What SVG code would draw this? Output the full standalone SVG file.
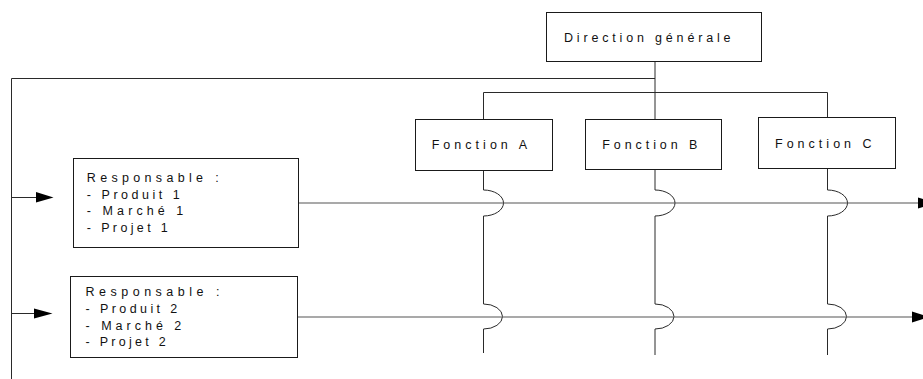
<svg xmlns="http://www.w3.org/2000/svg" width="923" height="379" viewBox="0 0 923 379">
<style>
  .box { fill: #ffffff; stroke: #1a1a1a; stroke-width: 1; }
  .ln { fill: none; stroke: #2a2a2a; stroke-width: 1; }
  .hl { fill: none; stroke: #555555; stroke-width: 1.2; }
  .ah { fill: #000000; stroke: none; }
  text { font-family: "Liberation Sans", Arial, sans-serif; font-size: 12.5px; fill: #111111; }
</style>
<rect width="923" height="379" fill="#ffffff"/>

<g id="connectors">
  <!-- top hierarchy -->
  <path class="ln" d="M655,62 V92.5"/>
  <path class="ln" d="M11.5,379 V78.5 H655"/>
  <path class="ln" d="M483.5,119 V92.5 H827.5 V117"/>
  <path class="ln" d="M655,92.5 V119"/>
  <!-- left arrows -->
  <path class="ln" d="M11.5,197.5 H38"/>
  <polygon class="ah" points="36,192 53.5,197.5 36,202.5"/>
  <path class="ln" d="M11.5,313.5 H36"/>
  <polygon class="ah" points="34,308.5 52.5,313.5 34,318.5"/>
  <!-- function verticals with jumps -->
  <path class="ln" d="M483.5,171 V190 A20 13 0 0 1 483.5,216 V304 A19 12.5 0 0 1 483.5,329 V353"/>
  <path class="ln" d="M655,170 V190 A20 13 0 0 1 655,216 V304 A19 12.5 0 0 1 655,329 V355"/>
  <path class="ln" d="M827.5,169 V190 A20 13 0 0 1 827.5,216 V304 A19 12.5 0 0 1 827.5,329 V355"/>
  <!-- horizontal flows -->
  <path class="hl" d="M299,203 H920"/>
  <polygon class="ah" points="918,197.5 935,203 918,208.5"/>
  <path class="hl" d="M298,317 H915"/>
  <polygon class="ah" points="912,311.5 929,317 912,322.5"/>
</g>

<g id="direction">
  <rect class="box" x="546.5" y="12.5" width="215" height="49"/>
  <text x="564" y="42" textLength="166.5" lengthAdjust="spacing">Direction générale</text>
</g>

<g id="fonctionA">
  <rect class="box" x="415.5" y="119.5" width="137" height="51"/>
  <text x="431.7" y="149" textLength="95.3" lengthAdjust="spacing">Fonction A</text>
</g>

<g id="fonctionB">
  <rect class="box" x="585.5" y="119.5" width="136" height="50"/>
  <text x="602.3" y="148.5" textLength="95" lengthAdjust="spacing">Fonction B</text>
</g>

<g id="fonctionC">
  <rect class="box" x="758.5" y="117.5" width="137" height="51"/>
  <text x="775" y="147.5" textLength="96.6" lengthAdjust="spacing">Fonction C</text>
</g>

<g id="responsable1">
  <rect class="box" x="73.5" y="158.5" width="225" height="89"/>
  <text x="86.8" y="181.5" textLength="131.9" lengthAdjust="spacing">Responsable :</text>
  <text x="86.8" y="198.5" textLength="93" lengthAdjust="spacing">- Produit 1</text>
  <text x="86.8" y="215" textLength="96.5" lengthAdjust="spacing">- Marché 1</text>
  <text x="86.8" y="231.5" textLength="81" lengthAdjust="spacing">- Projet 1</text>
</g>

<g id="responsable2">
  <rect class="box" x="70.5" y="276.5" width="227" height="81"/>
  <text x="85.5" y="295.5" textLength="134" lengthAdjust="spacing">Responsable :</text>
  <text x="85.5" y="312.5" textLength="91.8" lengthAdjust="spacing">- Produit 2</text>
  <text x="85.5" y="329.5" textLength="95.8" lengthAdjust="spacing">- Marché 2</text>
  <text x="85.5" y="346.3" textLength="80.1" lengthAdjust="spacing">- Projet 2</text>
</g>
</svg>
